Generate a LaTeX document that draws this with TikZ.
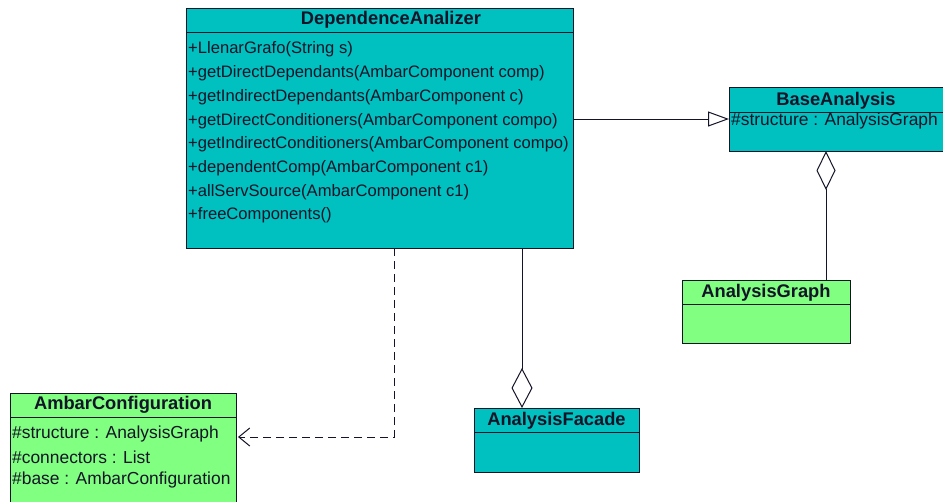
\documentclass[tikz,border=0pt]{standalone}
\usepackage{fontspec}
\setmainfont{Liberation Sans}
\usetikzlibrary{arrows.meta}
\definecolor{teal1}{RGB}{0,192,192}
\definecolor{green1}{RGB}{128,255,128}
\definecolor{ink}{RGB}{20,20,40}
\tikzset{
  cls/.style={draw=ink, line width=1pt, anchor=north west, inner sep=0pt, outer sep=0pt},
  hdr/.style={font=\fontsize{18.3}{21}\selectfont\bfseries, text=ink, inner sep=0pt},
  row/.style={font=\fontsize{16.6}{20}\selectfont, text=ink, anchor=west, inner sep=0pt},
  rowb/.style={font=\fontsize{17.4}{21}\selectfont, text=ink, anchor=west, inner sep=0pt},
  conn/.style={draw=ink, line width=1pt},
}
\begin{document}
\begin{tikzpicture}[x=1pt,y=-1pt]
\clip (0,0) rectangle (943,501);
\fill[white] (0,0) rectangle (943,501);
% DependenceAnalizer
\node[cls, fill=teal1, minimum width=387pt, minimum height=240pt] (da) at (186,8) {};
\draw[conn] ([yshift=-24pt]da.north west) -- ([yshift=-24pt]da.north east);
\node[hdr] (dah) at (391,20) {DependenceAnalizer};
\node[row] (da1) at (188,49) {+LlenarGrafo(String s)};
\node[row] (da2) at (188,73) {+getDirectDependants(AmbarComponent comp)};
\node[row] (da3) at (188,97) {+getIndirectDependants(AmbarComponent c)};
\node[row] (da4) at (188,121) {+getDirectConditioners(AmbarComponent compo)};
\node[row] (da5) at (188,144) {+getIndirectConditioners(AmbarComponent compo)};
\node[row] (da6) at (188,168) {+dependentComp(AmbarComponent c1)};
\node[row] (da7) at (188,192) {+allServSource(AmbarComponent c1)};
\node[row] (da8) at (188,215) {+freeComponents()};
% BaseAnalysis
\node[cls, fill=teal1, minimum width=214pt, minimum height=64pt] (ba) at (729,87) {};
\draw[conn] ([yshift=-25pt]ba.north west) -- ([yshift=-25pt]ba.north east);
\node[hdr] (bah) at (836,101) {BaseAnalysis};
\node[rowb] (ba1) at (731,121) {\#structure : AnalysisGraph};
% AnalysisGraph
\node[cls, fill=green1, minimum width=168pt, minimum height=63pt] (ag) at (682,280) {};
\draw[conn] ([yshift=-24pt]ag.north west) -- ([yshift=-24pt]ag.north east);
\node[hdr] (agh) at (766,293) {AnalysisGraph};
% AmbarConfiguration
\node[cls, fill=green1, minimum width=226pt, minimum height=120pt] (ac) at (10,393) {};
\draw[conn] ([yshift=-24pt]ac.north west) -- ([yshift=-24pt]ac.north east);
\node[hdr] (ach) at (123,405) {AmbarConfiguration};
\node[rowb] (ac1) at (12,434) {\#structure : AnalysisGraph};
\node[rowb] (ac2) at (12,457) {\#connectors : List};
\node[rowb] (ac3) at (12,480) {\#base : AmbarConfiguration};
% AnalysisFacade
\node[cls, fill=teal1, minimum width=165pt, minimum height=64pt] (af) at (474,408) {};
\draw[conn] ([yshift=-24pt]af.north west) -- ([yshift=-24pt]af.north east);
\node[hdr] (afh) at (556.5,421) {AnalysisFacade};
% connectors
\draw[conn, -{Triangle[open, length=21pt, width=15pt, fill=white]}]
  ([yshift=-111pt]da.north east) -- ([yshift=-32pt]ba.north west);
\draw[conn, -{Diamond[open, length=39pt, width=19pt, fill=white]}]
  ([xshift=144pt]ag.north west) -- ([xshift=97pt]ba.south west);
\draw[conn, -{Diamond[open, length=40pt, width=21pt, fill=white]}]
  ([xshift=336pt]da.south west) -- ([xshift=48pt]af.north west);
\draw[conn, dash pattern=on 8pt off 5pt, -{Straight Barb[length=11pt, width=18pt]}]
  ([xshift=208pt]da.south west) |- ([yshift=-44pt, xshift=2pt]ac.north east);
\end{tikzpicture}
\end{document}
